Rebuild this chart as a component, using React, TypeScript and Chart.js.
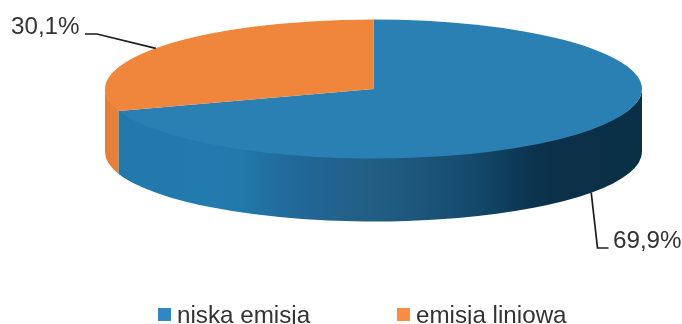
import React, { useEffect, useRef } from "react";
import { Chart, registerables } from "chart.js";

Chart.register(...registerables);

const categories = ["niska emisja", "emisja liniowa"];
const shares = [69.9, 30.1];
const valueLabels = ["69,9%", "30,1%"];

const topColors = ["#2a7fb3", "#f0853c"];
const legendColors = ["#2f87c3", "#f88e44"];
const textColor = "#333333";
const leaderColor = "#1c1c1c";
const font = '24.2px "Liberation Sans", Arial, sans-serif';

// Tilt of the disc: vertical squash of the top face and height of its side wall.
const SQUASH = 69.5 / 268.5;
const DEPTH = 63;
const RADIUS = 268.5;

// Side wall stops, left to right across the disc.
const blueWallStops: [number, string][] = [
  [0, "#2278ab"],
  [0.18, "#227aae"],
  [0.233, "#2279ab"],
  [0.31, "#226c9d"],
  [0.366, "#216595"],
  [0.47, "#235f85"],
  [0.576, "#1c567a"],
  [0.672, "#154a6c"],
  [0.729, "#10405f"],
  [0.786, "#0c344f"],
  [0.843, "#0b3048"],
  [1, "#0a3046"],
];
const orangeWall = "#e4803a";

// The upper edge runs slightly under the top face so no pale seam shows along the rim.
function wallPath(ctx: CanvasRenderingContext2D, x: number, y: number, rx: number, ry: number, a0: number, a1: number) {
  ctx.beginPath();
  ctx.ellipse(x, y, rx, ry - 2, 0, a0, a1, false);
  ctx.ellipse(x, y + DEPTH, rx, ry, 0, a1, a0, true);
  ctx.closePath();
}

const diskPlugin = {
  id: "disk",
  beforeDatasetsDraw(chart: any) {
    const ctx: CanvasRenderingContext2D = chart.ctx;
    const first = chart.getDatasetMeta(0).data[0];
    const rx = first.outerRadius;
    const ry = rx * SQUASH;
    const { x, y } = first;
    // Only the front half of the rim is visible.
    ctx.save();
    const split = first.endAngle;
    wallPath(ctx, x, y, rx, ry, split, Math.PI);
    ctx.fillStyle = orangeWall;
    ctx.fill();
    wallPath(ctx, x, y, rx, ry, 0, split);
    const left = x + Math.cos(split) * rx;
    const grad = ctx.createLinearGradient(left, 0, x + rx, 0);
    blueWallStops.forEach(([p, c]) => grad.addColorStop(p, c));
    ctx.fillStyle = grad;
    ctx.fill();
    ctx.restore();
  },
  beforeDatasetDraw(chart: any) {
    const ctx: CanvasRenderingContext2D = chart.ctx;
    const { y } = chart.getDatasetMeta(0).data[0];
    ctx.save();
    ctx.translate(0, y);
    ctx.scale(1, SQUASH);
    ctx.translate(0, -y);
  },
  afterDatasetDraw(chart: any) {
    chart.ctx.restore();
  },
  afterDatasetsDraw(chart: any) {
    const ctx: CanvasRenderingContext2D = chart.ctx;
    const arcs = chart.getDatasetMeta(0).data;
    const rimPoint = (arc: any, drop: number) => {
      const mid = (arc.startAngle + arc.endAngle) / 2;
      return {
        x: arc.x + Math.cos(mid) * arc.outerRadius,
        y: arc.y + Math.sin(mid) * arc.outerRadius * SQUASH + drop,
      };
    };

    ctx.save();
    ctx.strokeStyle = leaderColor;
    ctx.lineWidth = 1.7;
    ctx.lineJoin = "miter";

    const front = rimPoint(arcs[0], DEPTH);
    ctx.beginPath();
    ctx.moveTo(front.x, front.y);
    ctx.lineTo(597.5, 248);
    ctx.lineTo(608.5, 248);
    ctx.stroke();

    const back = rimPoint(arcs[1], 0);
    ctx.beginPath();
    ctx.moveTo(back.x, back.y);
    ctx.lineTo(97, 34);
    ctx.lineTo(85, 34);
    ctx.stroke();

    ctx.font = font;
    ctx.fillStyle = textColor;
    ctx.textBaseline = "alphabetic";
    ctx.fillText(valueLabels[0], 613, 248);
    ctx.fillText(valueLabels[1], 11, 34);

    // Legend row, cut by the lower edge of the canvas.
    const legendX = [158, 397];
    categories.forEach((name, i) => {
      ctx.fillStyle = legendColors[i];
      ctx.fillRect(legendX[i], 308, 13, 13);
      ctx.fillStyle = textColor;
      ctx.fillText(name, legendX[i] + 19, 323);
    });
    ctx.restore();
  },
};

export default function App() {
  const ref = useRef<HTMLCanvasElement>(null);

  useEffect(() => {
    document.body.style.margin = "0";
    const chart = new Chart(ref.current!, {
      type: "pie",
      data: {
        labels: categories,
        datasets: [
          {
            data: shares,
            backgroundColor: topColors,
            borderWidth: 0,
            radius: RADIUS,
            clip: false,
          } as any,
        ],
      },
      options: {
        responsive: false,
        animation: false,
        layout: { padding: { left: 65, right: 0, top: 0, bottom: 146 } },
        plugins: { legend: { display: false }, tooltip: { enabled: false } },
      },
      plugins: [diskPlugin],
    });
    return () => chart.destroy();
  }, []);

  return <canvas ref={ref} width={682} height={324} style={{ display: "block" }} />;
}
